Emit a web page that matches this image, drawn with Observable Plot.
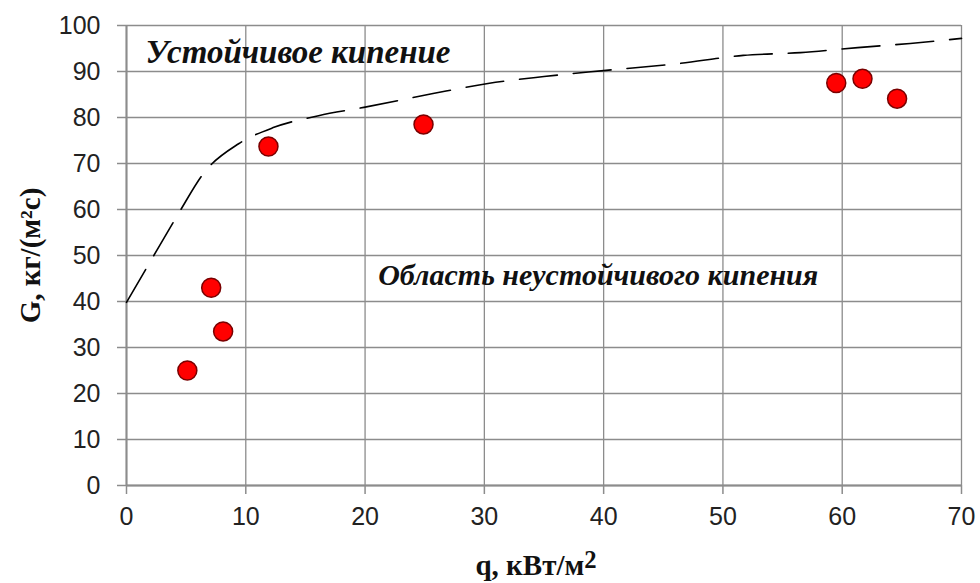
<!DOCTYPE html>
<html>
<head>
<meta charset="utf-8">
<script src="https://cdn.jsdelivr.net/npm/d3@7"></script>
<script src="https://cdn.jsdelivr.net/npm/@observablehq/plot@0.6"></script>
<style>
  html, body { margin: 0; padding: 0; background: #fff; }
</style>
</head>
<body>
<div id="chart"></div>
<script>
// Measured points
const pointQ = [5.1, 7.1, 8.1, 11.9, 24.9, 59.5, 61.7, 64.6];
const pointG = [25, 43, 33.5, 73.7, 78.5, 87.5, 88.4, 84.1];

// Dashed boundary curve
const curveQ = [0, 2.2, 4.4, 6.5, 9.4, 12.3, 16.1, 19.9, 25.7, 30.3, 35, 40, 46.2, 51.7, 56.5, 61.3, 65.7, 70];
const curveG = [39.8, 49.6, 59.3, 68, 74.3, 77.8, 80.4, 82.2, 85.2, 87.4, 88.9, 90.2, 91.7, 93.5, 94.1, 95.2, 96.1, 97.2];

const xTicks = [0, 10, 20, 30, 40, 50, 60, 70];
const yTicks = [0, 10, 20, 30, 40, 50, 60, 70, 80, 90, 100];

const stableLabel = "Устойчивое кипение";
const unstableLabel = "Область неустойчивого кипения";
const xTitleMain = "q, кВт/м";
const xTitleSup = "2";
const yTitle = "G, кг/(м²c)";

const points = pointQ.map((q, i) => ({q, g: pointG[i]}));
const curve = curveQ.map((q, i) => ({q, g: curveG[i]}));

const gridColor = "#8c8c8c";
const serif = "Liberation Serif, Times New Roman, serif";

const chart = Plot.plot({
  width: 980,
  height: 583,
  marginLeft: 126,
  marginRight: 19,
  marginTop: 25,
  marginBottom: 98,
  style: {background: "#fff", fontFamily: "Liberation Sans, Arial, sans-serif"},
  x: {domain: [0, 70]},
  y: {domain: [0, 100]},
  marks: [
    Plot.gridX(xTicks, {stroke: gridColor, strokeOpacity: 1, strokeWidth: 1.3}),
    Plot.gridY(yTicks, {stroke: gridColor, strokeOpacity: 1, strokeWidth: 1.3}),
    Plot.axisX(xTicks, {tickSize: 9, tickPadding: 13, fontSize: 25, stroke: gridColor, strokeWidth: 1.5, fill: "#222", label: null}),
    Plot.axisY(yTicks, {tickSize: 9, tickPadding: 17, fontSize: 25, stroke: gridColor, strokeWidth: 1.5, fill: "#222", label: null}),
    Plot.ruleX([0], {stroke: gridColor, strokeWidth: 2}),
    Plot.ruleY([0], {stroke: gridColor, strokeWidth: 2}),
    Plot.line(curve, {x: "q", y: "g", curve: "monotone-x", stroke: "#000", strokeWidth: 1.6, strokeDasharray: "38,16"}),
    Plot.dot(points, {x: "q", y: "g", r: 9.5, fill: "#ff0000", stroke: "#7a0000", strokeWidth: 1.5}),
    Plot.text([stableLabel], {x: 1.6, y: 94.2, textAnchor: "start", fontFamily: serif, fontWeight: "bold", fontStyle: "italic", fontSize: 33, fill: "#111"}),
    Plot.text([unstableLabel], {x: 21.1, y: 45.6, textAnchor: "start", fontFamily: serif, fontWeight: "bold", fontStyle: "italic", fontSize: 30, fill: "#111"}),
    Plot.text([xTitleMain], {frameAnchor: "bottom", dy: 89, dx: -8, textAnchor: "middle", fontFamily: serif, fontWeight: "bold", fontSize: 29, fill: "#111", className: "xtitle"}),
    Plot.text([yTitle], {frameAnchor: "left", dx: -96, rotate: -90, textAnchor: "middle", fontFamily: serif, fontWeight: "bold", fontSize: 29, fill: "#111"})
  ]
});
// raised "2" after м in x title
d3.select(chart).selectAll("g.xtitle text").each(function () {
  const t = d3.select(this);
  t.append("tspan").attr("dy", "-0.25em").attr("font-size", "0.85em").text(xTitleSup);
});
document.getElementById("chart").appendChild(chart);
</script>
</body>
</html>
